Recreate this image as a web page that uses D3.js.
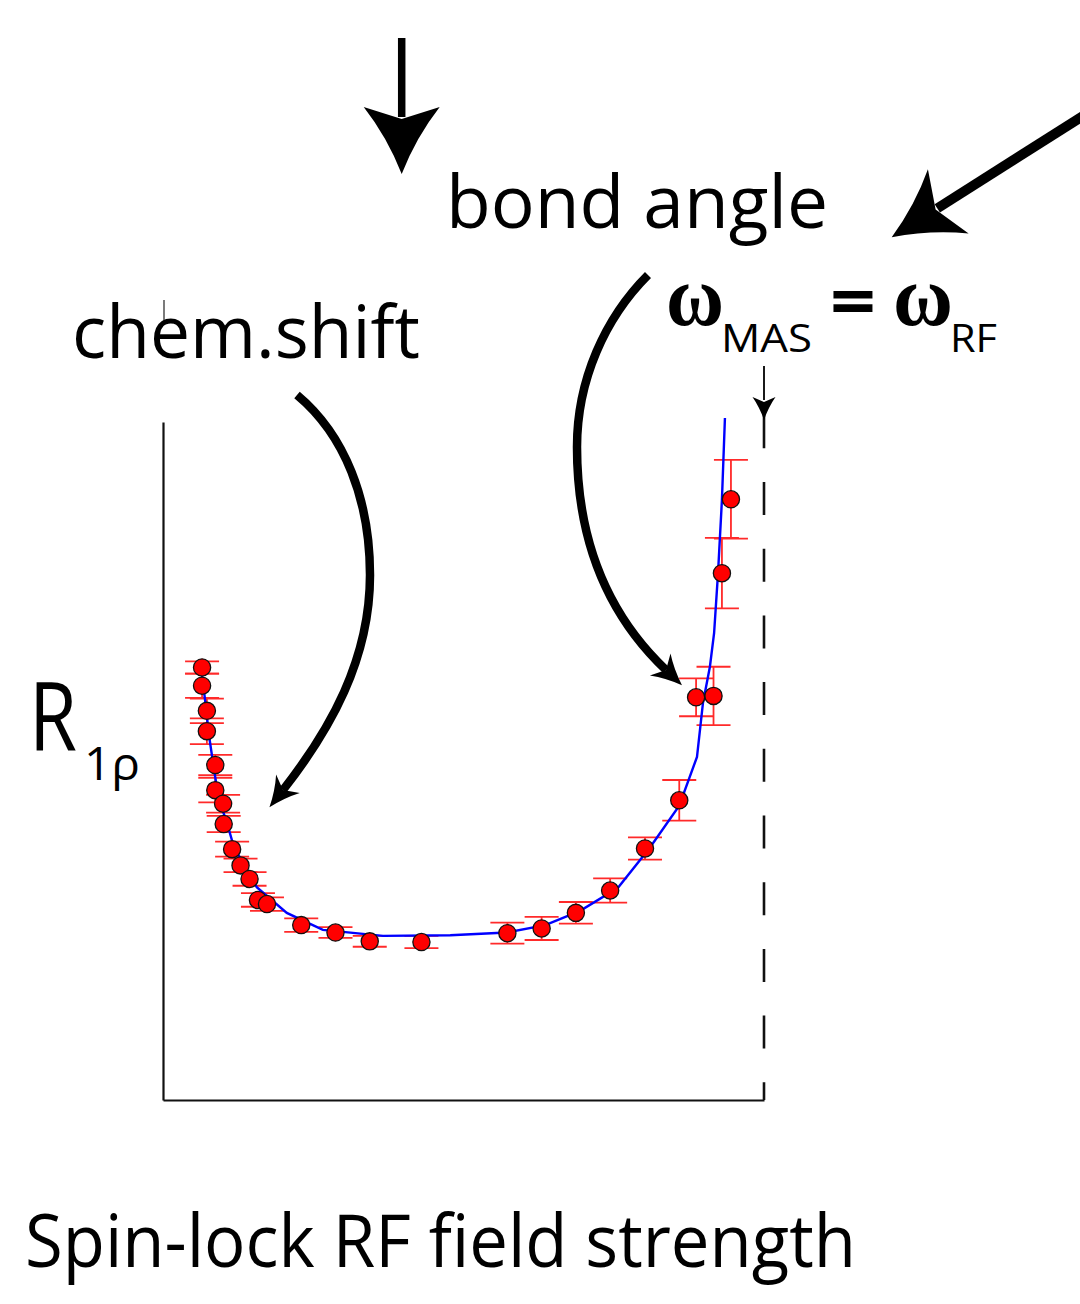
<!DOCTYPE html>
<html>
<head>
<meta charset="utf-8">
<script src="https://cdn.jsdelivr.net/npm/d3@7"></script>
<style>
  html, body { margin: 0; padding: 0; background: #fff; }
  svg { display: block; }
</style>
</head>
<body>
<svg id="chart" width="1080" height="1304"></svg>
<script>
// R1rho relaxation dispersion versus spin-lock field strength (arbitrary units).
// The rotary-resonance condition omega_MAS = omega_RF lies at fieldStrength = 100.
const fieldStrength = [6.5, 6.5, 7.3, 7.3, 8.7, 8.7, 10.0, 10.1, 11.5, 12.9, 14.4, 15.8, 17.3,
                       23.0, 28.7, 34.4, 43.0, 57.3, 63.0, 68.7, 74.4, 80.2, 85.9, 88.7, 91.6, 93.0, 94.5];
const r1rho = [63.8, 61.1, 57.4, 54.4, 49.4, 45.7, 43.7, 40.7, 37.0, 34.6, 32.6, 29.5, 28.9,
               25.8, 24.7, 23.4, 23.3, 24.6, 25.3, 27.6, 30.9, 37.1, 44.2, 59.4, 59.6, 77.7, 88.6];
const r1rhoErr = [0.9, 1.8, 1.8, 1.9, 1.5, 1.8, 1.3, 1.2, 1.1, 1.0, 1.0, 1.0, 1.0,
                  1.0, 0.8, 0.8, 0.9, 1.55, 1.7, 1.6, 1.8, 1.65, 3.0, 2.8, 4.3, 5.2, 5.8];

// Model curve
const fitX = [6.3, 7.0, 7.65, 8.5, 9.3, 10.5, 11.8, 13.6, 15.6, 20.6, 26.6, 36.6, 47.8,
              57.2, 63.6, 69.4, 75.7, 81.0, 85.9, 88.85, 89.85, 91.0, 91.7, 92.35, 93.0, 93.5];
const fitY = [64.0, 59.0, 53.8, 48.7, 44.2, 41.3, 37.3, 34.5, 31.4, 27.6, 25.1, 24.2, 24.3,
              24.7, 25.8, 27.9, 31.3, 37.2, 43.4, 50.6, 58.6, 63.9, 68.9, 77.7, 88.5, 100.6];

const resonanceField = 100;

const svg = d3.select("#chart");
const FONT = "'Open Sans', 'Noto Sans', sans-serif";

const x = d3.scaleLinear().domain([0, 100]).range([163, 764]);
const y = d3.scaleLinear().domain([0, 100]).range([1100, 422]);

// ---- axes (no ticks, just the frame lines)
svg.append("g").attr("transform", `translate(${x(0)},0)`)
  .call(d3.axisLeft(y).tickValues([]).tickSizeOuter(0));
svg.append("g").attr("transform", `translate(0,${y(0)})`)
  .call(d3.axisBottom(x).tickValues([]).tickSizeOuter(0));
svg.selectAll(".domain").attr("stroke", "#111").attr("stroke-width", 2.2);

// short stub of the frame above the plot
svg.append("line").attr("x1", x(0) + 1).attr("x2", x(0) + 1)
  .attr("y1", 300).attr("y2", 322).attr("stroke", "#222").attr("stroke-width", 1.2);

// ---- resonance condition marker
svg.append("line")
  .attr("x1", x(resonanceField)).attr("x2", x(resonanceField))
  .attr("y1", 415.3).attr("y2", y(0))
  .attr("stroke", "#111").attr("stroke-width", 2.6)
  .attr("stroke-dasharray", "33,33.7");

// ---- arrow helpers
function headPath(tip, dir, L, W, N) {
  const px = -dir[1], py = dir[0];
  const pt = (d, s) => [tip[0] - dir[0] * d + px * s, tip[1] - dir[1] * d + py * s];
  const bL = pt(L, -W), bR = pt(L, W), notch = pt(N, 0);
  const cL = pt(L * 0.55, -W * 0.38), cR = pt(L * 0.55, W * 0.38);
  return `M${tip}Q${cL} ${bL}L${notch}L${bR}Q${cR} ${tip}Z`;
}
function unit(a, b) {
  const dx = b[0] - a[0], dy = b[1] - a[1], l = Math.hypot(dx, dy);
  return [dx / l, dy / l];
}
function straightArrow(start, tip, width, L, W, N) {
  const dir = unit(start, tip);
  const end = [tip[0] - dir[0] * (N + 2), tip[1] - dir[1] * (N + 2)];
  svg.append("line").attr("x1", start[0]).attr("y1", start[1])
    .attr("x2", end[0]).attr("y2", end[1])
    .attr("stroke", "#000").attr("stroke-width", width);
  svg.append("path").attr("d", headPath(tip, dir, L, W, N)).attr("fill", "#000");
}
// two cubic segments: [p0, c1, c2, p1, c3, c4, p2]
function curvedArrow(seg, width, L, W, N) {
  const p = d3.path();
  p.moveTo(...seg[0]);
  p.bezierCurveTo(...seg[1], ...seg[2], ...seg[3]);
  p.bezierCurveTo(...seg[4], ...seg[5], ...seg[6]);
  svg.append("path").attr("d", p.toString())
    .attr("fill", "none").attr("stroke", "#000").attr("stroke-width", width);
  const dir = unit(seg[5], seg[6]);
  const notch = seg[6];
  const tip = [notch[0] + dir[0] * N, notch[1] + dir[1] * N];
  svg.append("path").attr("d", headPath(tip, dir, L, W, N)).attr("fill", "#000");
}

// downward arrow at the top
straightArrow([401.7, 38], [401.7, 174], 7.5, 67, 38, 55);
// diagonal arrow entering from the right edge
straightArrow([1090, 111.5], [891.7, 237.3], 10, 67, 38, 52);
// thin arrow marking the resonance position
straightArrow([764, 366], [764, 420], 1.8, 23, 11.5, 18);

// curved arrow: chemical-shift term -> low-field branch
curvedArrow([[297, 395], [345, 435], [370, 500], [370, 575],
             [370, 660], [330, 730], [283, 790]], 8.5, 30, 15, 22);
// curved arrow: bond-angle term -> high-field branch
curvedArrow([[648, 275], [605, 318], [577, 380], [577, 447],
             [577, 540], [608, 615], [666, 670]], 8.5, 30, 15, 22);

// ---- data
const data = fieldStrength.map((f, i) => ({ f, r: r1rho[i], e: r1rhoErr[i] }));
const capHalf = 17;

const eb = svg.append("g").attr("stroke", "#ff2a2a").attr("stroke-width", 1.8).attr("fill", "none");
eb.selectAll("line.v").data(data).join("line").attr("class", "v")
  .attr("x1", d => x(d.f)).attr("x2", d => x(d.f))
  .attr("y1", d => y(d.r - d.e)).attr("y2", d => y(d.r + d.e));
eb.selectAll("line.t").data(data).join("line").attr("class", "t")
  .attr("x1", d => x(d.f) - capHalf).attr("x2", d => x(d.f) + capHalf)
  .attr("y1", d => y(d.r + d.e)).attr("y2", d => y(d.r + d.e));
eb.selectAll("line.b").data(data).join("line").attr("class", "b")
  .attr("x1", d => x(d.f) - capHalf).attr("x2", d => x(d.f) + capHalf)
  .attr("y1", d => y(d.r - d.e)).attr("y2", d => y(d.r - d.e));

svg.append("path")
  .datum(fitX.map((v, i) => [v, fitY[i]]))
  .attr("d", d3.line().x(d => x(d[0])).y(d => y(d[1])))
  .attr("fill", "none").attr("stroke", "#0000ff").attr("stroke-width", 2.4);

svg.append("g").selectAll("circle").data(data).join("circle")
  .attr("cx", d => x(d.f)).attr("cy", d => y(d.r)).attr("r", 8.6)
  .attr("fill", "#ff0000").attr("stroke", "#111").attr("stroke-width", 1.3);

// ---- labels
function label(txt, px, py, size, len, family, weight) {
  const t = svg.append("text").attr("x", px).attr("y", py)
    .attr("font-family", family || FONT).attr("font-size", size)
    .attr("font-weight", weight || "normal").attr("fill", "#000").text(txt);
  if (len) t.attr("textLength", len).attr("lengthAdjust", "spacingAndGlyphs");
  return t;
}
label("bond angle", 446, 228, 74, 382);
label("chem.shift", 72, 358, 74, 348);
label("Spin-lock RF field strength", 25, 1267, 74, 831);

label("R", 29, 750, 95, 48);
label("1\u03c1", 84, 780, 46, 56);

const SERIF = "'Liberation Serif', 'DejaVu Serif', serif";
label("\u03c9", 666, 325, 86, 58, SERIF, "bold");
label("MAS", 721, 352, 39, 91);
label("=", 830, 327, 72, 46, FONT, "bold");
label("\u03c9", 893, 325, 86, 60, SERIF, "bold");
label("RF", 950, 352, 39, 47);
</script>
</body>
</html>
